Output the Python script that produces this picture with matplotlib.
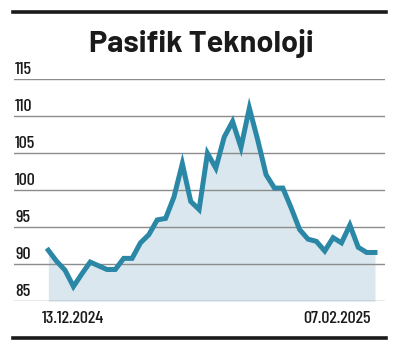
import matplotlib
matplotlib.use("Agg")
import matplotlib.pyplot as plt

title = "Pasifik Teknoloji"
start_label = "13.12.2024"
end_label = "07.02.2025"
values = [91.9, 90.4, 89.2, 87.0, 88.7, 90.3, 89.8, 89.3, 89.3, 90.8,
          90.8, 92.9, 94.0, 96.0, 96.2, 99.1, 103.6, 98.5, 97.4, 105.0,
          103.0, 107.2, 109.3, 105.8, 111.1, 106.8, 102.1, 100.3, 100.3, 97.6,
          94.7, 93.4, 93.1, 91.8, 93.6, 92.9, 95.3, 92.3, 91.6, 91.6]
yticks = [85, 90, 95, 100, 105, 110, 115]

narrow = ["Barlow Condensed", "Roboto Condensed", "DejaVu Sans"]
bold = ["Barlow", "Roboto", "DejaVu Sans"]

W, H = 406, 360
fig = plt.figure(figsize=(W / 100, H / 100), dpi=100)

def fx(px):
    return px / W

def fy(py):
    return 1 - py / H

ax = fig.add_axes([fx(14), fy(301.3), fx(385) - fx(14), fy(79.3) - fy(301.3)])
n = len(values)
x = list(range(n))
px_per = (375 - 48.3) / (n - 1)
ax.set_xlim(-(48.3 - 14) / px_per, (n - 1) + (385 - 375) / px_per)
ax.set_ylim(85, 115)
for t in yticks:
    ax.axhline(t, color="#8c8c8c", lw=1.0, zorder=1)
    ax.text(-(48.3 - 15) / px_per, t + 0.3, str(t), ha="left", va="bottom",
            fontsize=13, family=narrow, fontweight=500, color="#1a1a1a")
ax.fill_between(x, values, 85, color="#dae7ee", lw=0, zorder=0)
ax.plot(x, values, color="#2a87a5", lw=3.6, solid_joinstyle="miter", zorder=3,
        clip_on=False)
ax.axis("off")

fig.text(fx(201), fy(43), title, ha="center", va="center", fontsize=22,
         fontweight="bold", family=bold, color="#1a1a1a")
fig.text(fx(41.5), fy(318.5), start_label, ha="left", va="center", fontsize=13,
         family=narrow, fontweight=500, color="#1a1a1a")
fig.text(fx(371), fy(318.5), end_label, ha="right", va="center", fontsize=13,
         family=narrow, fontweight=500, color="#1a1a1a")

fig.add_artist(plt.Line2D([fx(13), fx(386)], [fy(11.7), fy(11.7)], color="#1a1a1a", lw=2.6))
fig.add_artist(plt.Line2D([fx(13), fx(386)], [fy(338), fy(338)], color="#1a1a1a", lw=2.6))

fig.savefig("out.png", dpi=100)
